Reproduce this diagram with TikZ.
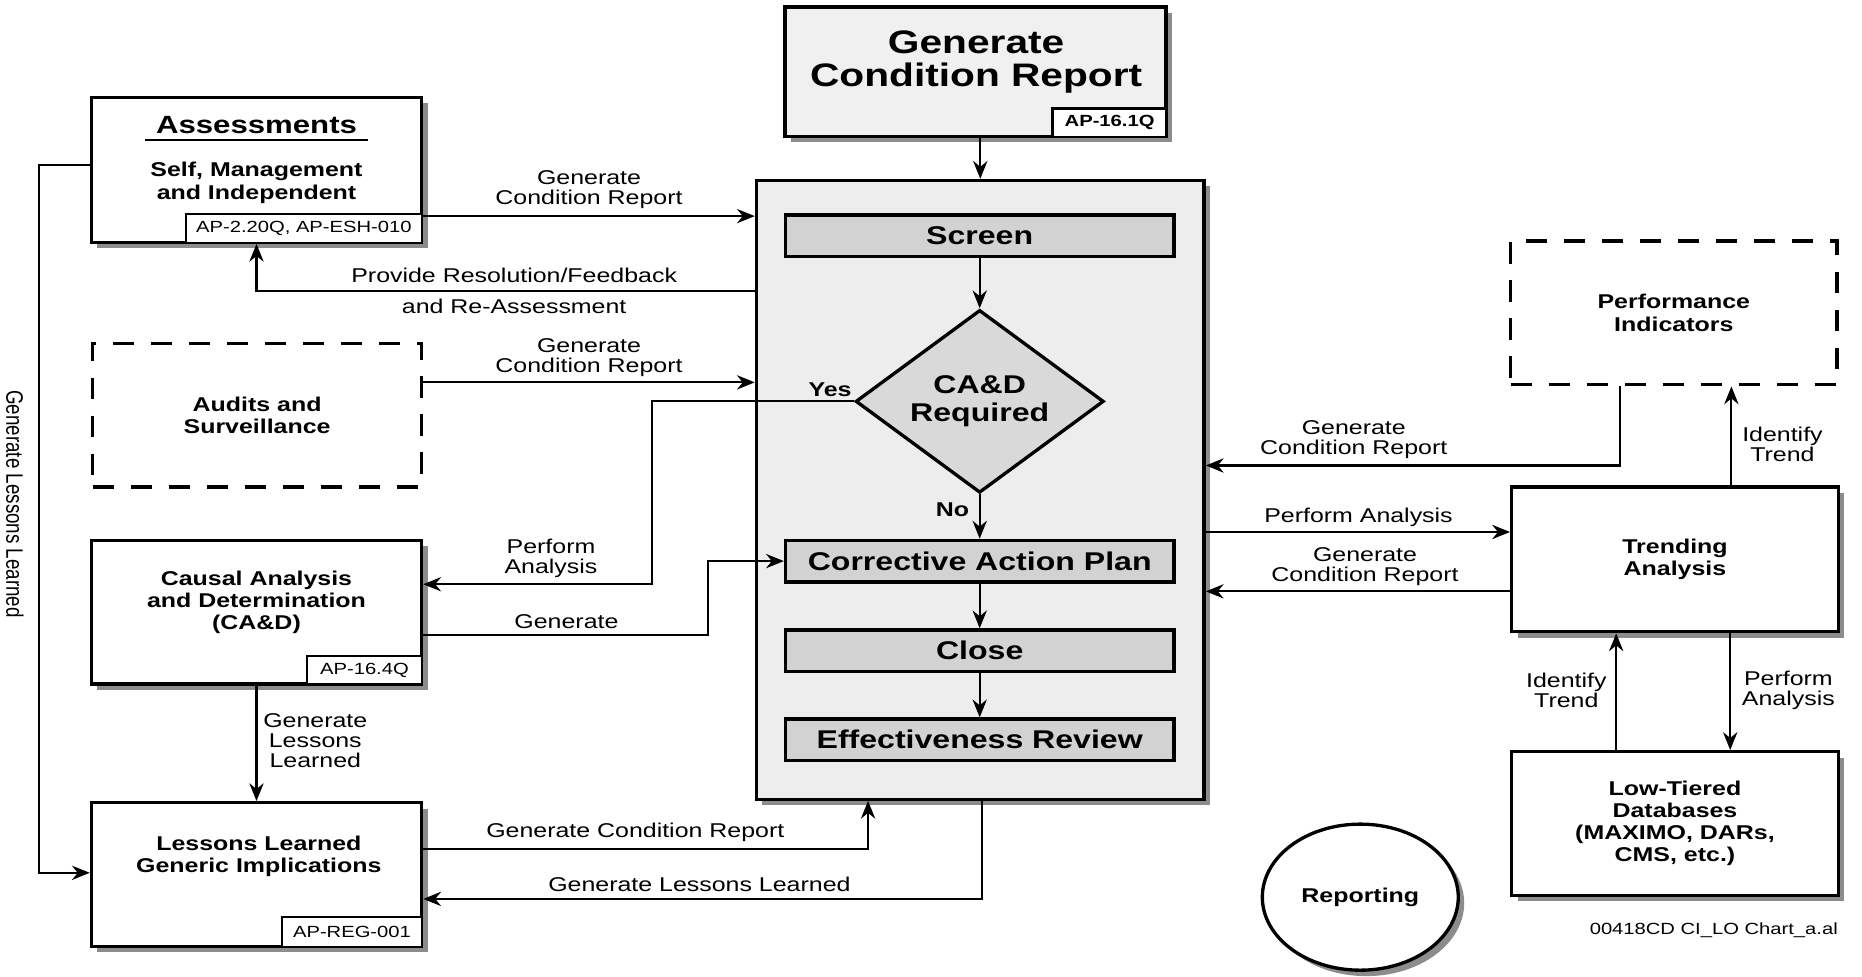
\documentclass[tikz,border=0pt]{standalone}
\usepackage{graphicx}
\usepackage{fontspec}
\setmainfont[FakeStretch=1.25]{Liberation Sans}
\newfontfamily\plainfont{Liberation Sans}
\usetikzlibrary{positioning,shapes.geometric,arrows.meta,shadows}

\newcommand{\lblfont}{\fontsize{8.4}{8.4}\selectfont}
\newcommand{\boxfont}{\fontsize{8.4}{9.3}\selectfont\bfseries}
\newcommand{\headfont}{\fontsize{10.5}{12}\selectfont\bfseries}
\newcommand{\flowfont}{\fontsize{10.8}{12}\selectfont\bfseries}
\newcommand{\titlefont}{\fontsize{13.7}{14}\selectfont\bfseries}
\newcommand{\tagfont}{\fontsize{6.8}{7}\selectfont}

\tikzset{
  box/.style={draw, line width=1.4pt, fill=white, inner sep=0pt, align=center},
  dropshade/.style={drop shadow={shadow xshift=2.5pt, shadow yshift=-2.5pt, fill=black!45, opacity=1}},
  dashbox/.style={draw, line width=1.4pt, dash pattern=on 9pt off 7pt, inner sep=0pt, align=center, font=\boxfont},
  stepbox/.style={draw, line width=1.4pt, fill=gray!35, font=\flowfont, minimum width=163.5pt, minimum height=17.5pt, inner sep=0pt},
  tag/.style={draw, line width=1pt, fill=white, font=\tagfont, inner sep=0pt, anchor=south east},
  lbl/.style={font=\lblfont, align=center, inner sep=1pt},
  txt/.style={font=\boxfont, align=center, inner sep=0pt},
  arr/.style={-{Stealth[length=7.5pt,width=6pt]}, line width=0.9pt},
}

\begin{document}
\begin{tikzpicture}[x=0.5pt, y=-0.5pt]
\useasboundingbox (0,0) rectangle (1568,822);

% condition report
\node[box, dropshade, fill=gray!12, minimum width=160.5pt, minimum height=54.5pt] (gcr) at (821.5,60.5) {};
\node[tag, font=\tagfont\bfseries, minimum width=48pt, minimum height=12pt] (gcrtag) at (gcr.south east) {AP-16.1Q};
\node[font=\titlefont, align=center] (gcrtxt) at (822,52) {Generate\\Condition Report};

% central process
\node[box, dropshade, fill=gray!14, minimum width=188.5pt, minimum height=260.5pt] (main) at (825.5,412.5) {};
\node[stepbox] (screen) at (825,198.5) {Screen};
\node[diamond, draw, line width=1.4pt, fill=gray!30, minimum width=104.5pt, minimum height=77pt, inner sep=0pt, on grid, below=69.75pt of screen] (cad) {};
\node[font=\flowfont, align=center] (cadtxt) at (cad) {CA\&D\\Required};
\node[stepbox, on grid, below=67.25pt of cad] (cap) {Corrective Action Plan};
\node[stepbox, on grid, below=37.75pt of cap] (close) {Close};
\node[stepbox, on grid, below=37.5pt of close] (review) {Effectiveness Review};

% left column
\node[box, dropshade, minimum width=139pt, minimum height=61pt] (assess) at (216,143) {};
\node[tag, minimum width=99.5pt, minimum height=12pt] (asstag) at (assess.south east) {AP-2.20Q, AP-ESH-010};
\node[font=\headfont, inner xsep=4.5pt, inner ysep=0pt] (asshead) at (216,105) {Assessments};
\draw[line width=1pt] ([yshift=-3pt]asshead.base west) -- ([yshift=-3pt]asshead.base east);
\node[txt] (asstxt) at (216,154) {Self, Management\\and Independent};

\node[dashbox, minimum width=138.5pt, minimum height=60.5pt] (audits) at (216.5,349.5) {Audits and\\Surveillance};

\node[box, dropshade, minimum width=139pt, minimum height=60.5pt] (causal) at (216,515.5) {};
\node[tag, minimum width=48.5pt, minimum height=12pt] (caustag) at (causal.south east) {AP-16.4Q};
\node[txt] (caustxt) at (216,507) {Causal Analysis\\and Determination\\(CA\&D)};

\node[box, dropshade, minimum width=139pt, minimum height=60.5pt] (lessons) at (216,736.5) {};
\node[tag, minimum width=59pt, minimum height=12.5pt] (lesstag) at (lessons.south east) {AP-REG-001};
\node[txt] (lesstxt) at (218,721.5) {Lessons Learned\\Generic Implications};

% right column
\node[dashbox, minimum width=137.5pt, minimum height=60.5pt] (perf) at (1409.5,263.5) {Performance\\Indicators};
\node[box, dropshade, font=\boxfont, minimum width=137.5pt, minimum height=61pt] (trend) at (1410.5,471) {Trending\\Analysis};
\node[box, dropshade, font=\boxfont, minimum width=137.5pt, minimum height=60.5pt] (lowtier) at (1410.5,693.5) {Low-Tiered\\Databases\\(MAXIMO, DARs,\\CMS, etc.)};
\node[box, dropshade, ellipse, font=\boxfont, minimum width=82.5pt, minimum height=61.5pt] (report) at (1145.5,755.5) {Reporting};
\node[font=\tagfont, anchor=east, inner sep=0pt] (fileid) at (1548,783) {00418CD CI\_LO Chart\_a.al};

% flow inside
\draw[arr] (gcr.south -| main.north) -- (main.north);
\draw[arr] (screen.south) -- (cad.north);
\draw[arr] (cad.south) -- (cap.north);
\draw[arr] (cap.south) -- (close.north);
\draw[arr] (close.south) -- (review.north);

% left connectors
\draw[arr] (assess.east |- 0,182) -- (main.west |- 0,182);
\draw[arr] (main.west |- 0,245) -| (assess.south);
\draw[arr] (audits.east |- 0,322) -- (main.west |- 0,322);
\draw[arr] (cad.west) -| (549,415) |- (causal.east |- 0,492);
\draw[arr] (causal.east |- 0,535) -- (596,535) |- (cap.west);
\draw[arr] (causal.south) -- (lessons.north);
\draw[arr] (assess.west |- 0,139) -- (33,139) |- (lessons.west |- 0,735);
\draw[arr] (lessons.east |- 0,715) -| (main.south -| 731,0);
\draw[arr] (main.south -| 827,0) |- (lessons.east |- 0,757);

% right connectors
\draw[arr] (perf.south -| 1364,0) |- (main.east |- 0,392);
\draw[arr] (trend.north -| 1458,0) -- (perf.south -| 1458,0);
\draw[arr] (main.east |- 0,448) -- (trend.west |- 0,448);
\draw[arr] (trend.west |- 0,498) -- (main.east |- 0,498);
\draw[arr] (lowtier.north -| 1361,0) -- (trend.south -| 1361,0);
\draw[arr] (trend.south -| 1457,0) -- (lowtier.north -| 1457,0);

% labels
\node[lbl] (l1) at (496,160) {Generate\\Condition Report};
\node[lbl] (l2) at (433,232) {Provide Resolution/Feedback};
\node[lbl] (l3) at (433,258) {and Re-Assessment};
\node[lbl] (l4) at (496,301) {Generate\\Condition Report};
\node[txt] (yes) at (699,328) {Yes};
\node[txt] (no) at (802,429.5) {No};
\node[lbl] (l5) at (464,470) {Perform\\Analysis};
\node[lbl] (l6) at (477,523.5) {Generate};
\node[lbl] (l7) at (265.5,624) {Generate\\Lessons\\Learned};
\node[lbl] (l8) at (535,701) {Generate Condition Report};
\node[lbl] (l9) at (589,745) {Generate Lessons Learned};
\node[inner sep=0pt] (l10) at (12.6,424.5) {\rotatebox{-90}{\scalebox{1}[1.27]{\plainfont\fontsize{7.9}{8}\selectfont Generate Lessons Learned}}};
\node[lbl] (r1) at (1140,370.5) {Generate\\Condition Report};
\node[lbl] (r2) at (1501,374) {Identify\\Trend};
\node[lbl] (r3) at (1144,435.6) {Perform Analysis};
\node[lbl] (r4) at (1149.5,477) {Generate\\Condition Report};
\node[lbl] (r5) at (1319,581.5) {Identify\\Trend};
\node[lbl] (r6) at (1506,581.5) {Perform\\Analysis};
\end{tikzpicture}
\end{document}
